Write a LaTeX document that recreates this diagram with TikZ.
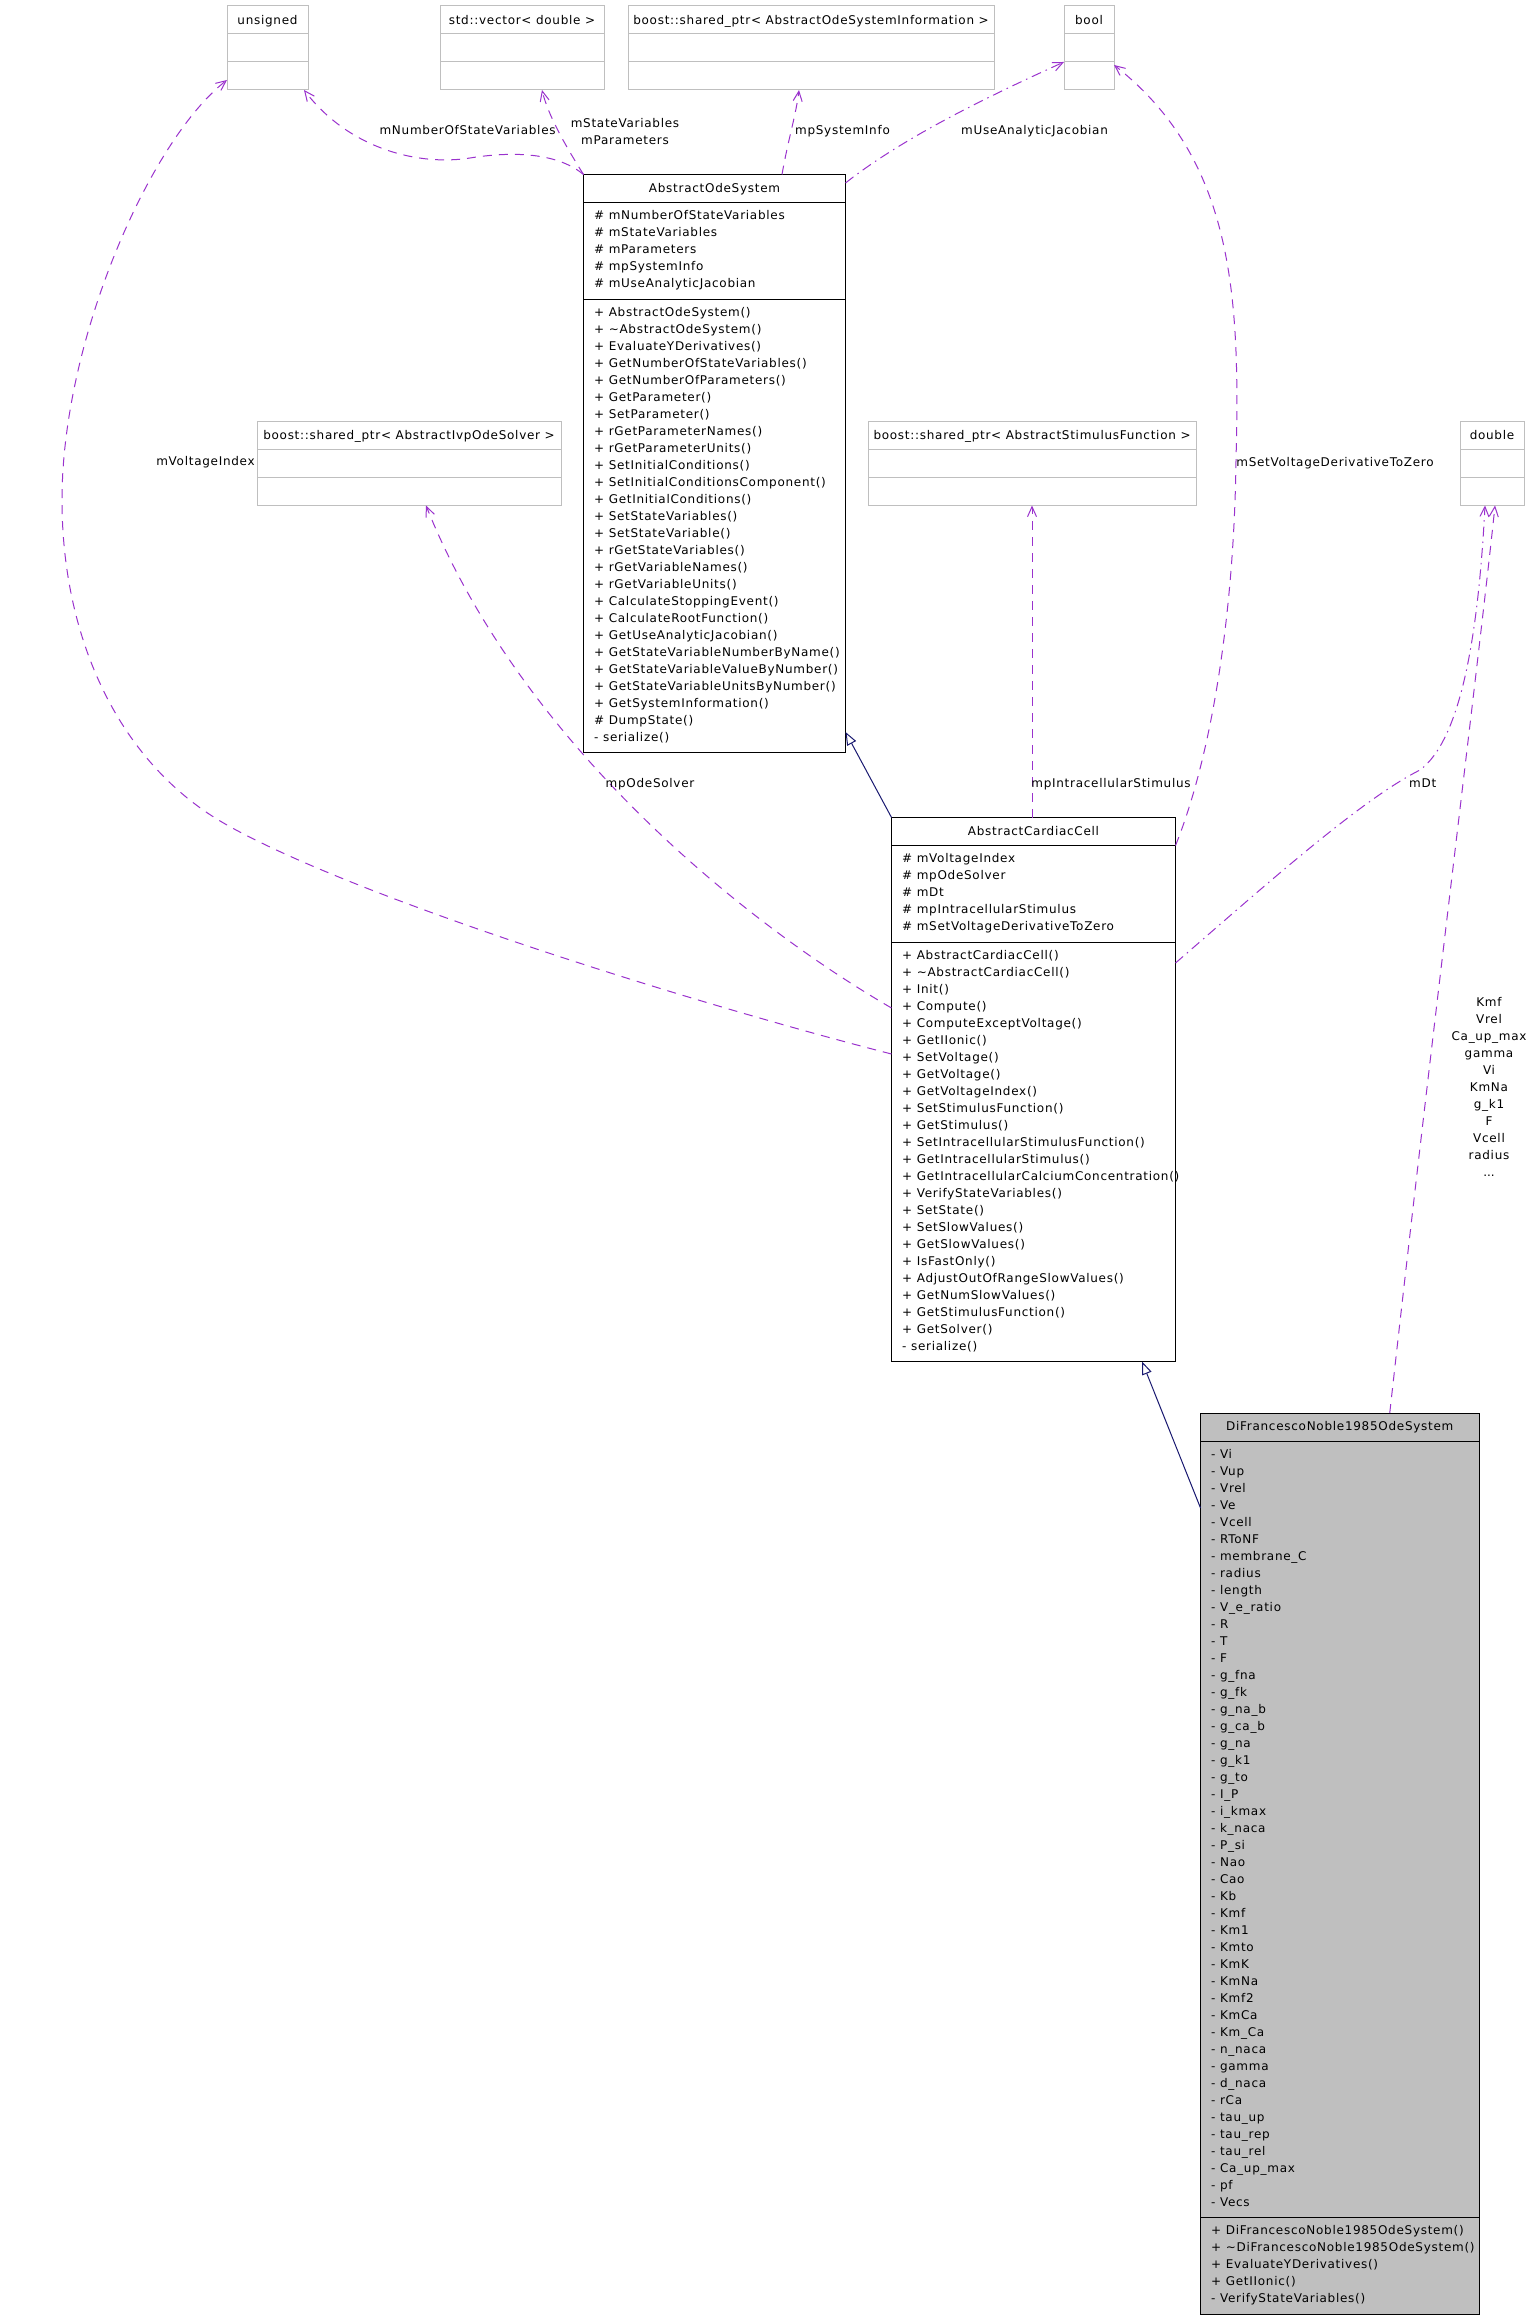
\documentclass[tikz,border=0pt]{standalone}
\usepackage{fontspec}
\setmainfont{DejaVu Sans}[LetterSpace=6]
\usetikzlibrary{arrows.meta,calc}
\definecolor{graybox}{HTML}{BFBFBF}
\definecolor{edgepurple}{HTML}{9A32CD}
\definecolor{inhblue}{HTML}{191970}
\tikzset{
  clsbox/.style={draw=black, line width=1pt, inner sep=0pt, outer sep=0pt, anchor=north west},
  extbox/.style={draw=graybox, line width=1pt, inner sep=0pt, outer sep=0pt, anchor=north west},
  memtxt/.style={anchor=base west, inner sep=0pt, font=\fontsize{12}{17}\selectfont},
  ttltxt/.style={anchor=base, inner sep=0pt, font=\fontsize{12}{17}\selectfont},
  lbltxt/.style={anchor=base, inner sep=0pt, font=\fontsize{12}{17}\selectfont},
  assoc/.style={draw=edgepurple, line width=1pt, dash pattern=on 9pt off 7pt, -{Straight Barb[length=10pt,width=9pt]}},
  assocdot/.style={assoc, dash pattern=on 10pt off 5pt on 1.5pt off 5pt},
  inherit/.style={draw=inhblue, line width=1pt, -{Triangle[fill=white,length=13pt,width=10pt]}},
  sepline/.style={line width=1pt},
}
\newcommand{\mkext}[5]{%
  \node[extbox, minimum width=#4pt, minimum height=84pt] (#1) at (#2,#3) {};
  \draw[graybox, sepline] ($(#1.north west)+(0,28)$) -- ($(#1.north east)+(0,28)$);
  \draw[graybox, sepline] ($(#1.north west)+(0,56)$) -- ($(#1.north east)+(0,56)$);
  \node[ttltxt] (#1T) at ($(#1.north)+(0,18.4)$) {#5};
}
\begin{document}
\begin{tikzpicture}[x=1pt,y=-1pt]
\useasboundingbox (0,0) rectangle (1531,2317);

% external type boxes
\mkext{unsigned}{227}{6}{81}{unsigned}
\mkext{stdvec}{440}{6}{164}{std::vector< double >}
\mkext{sysinfo}{628}{6}{366}{boost::shared\_ptr< AbstractOdeSystemInformation >}
\mkext{bool}{1064}{6}{50}{bool}
\mkext{ivp}{257}{421.5}{304}{boost::shared\_ptr< AbstractIvpOdeSolver >}
\mkext{stim}{868}{421.5}{328}{boost::shared\_ptr< AbstractStimulusFunction >}
\mkext{double}{1460}{421.5}{64}{double}

% AbstractOdeSystem
\node[clsbox, minimum width=262pt, minimum height=578pt] (aos) at (583.5,174.5) {};
\draw[sepline] (583.5,202.5) -- (845.5,202.5);
\draw[sepline] (583.5,299) -- (845.5,299);
\node[ttltxt] (aosT) at (714.5,192.4) {AbstractOdeSystem};
\foreach \t [count=\i from 0] in {\# mNumberOfStateVariables, \# mStateVariables, \# mParameters, \# mpSystemInfo, \# mUseAnalyticJacobian}
  \node[memtxt] (aosA\i) at ({594},{219.9+17*\i}) {\t};
\foreach \t [count=\i from 0] in {+ AbstractOdeSystem(), + \textasciitilde AbstractOdeSystem(), + EvaluateYDerivatives(), + GetNumberOfStateVariables(), + GetNumberOfParameters(), + GetParameter(), + SetParameter(), + rGetParameterNames(), + rGetParameterUnits(), + SetInitialConditions(), + SetInitialConditionsComponent(), + GetInitialConditions(), + SetStateVariables(), + SetStateVariable(), + rGetStateVariables(), + rGetVariableNames(), + rGetVariableUnits(), + CalculateStoppingEvent(), + CalculateRootFunction(), + GetUseAnalyticJacobian(), + GetStateVariableNumberByName(), + GetStateVariableValueByNumber(), + GetStateVariableUnitsByNumber(), + GetSystemInformation(), \# DumpState(), - serialize()}
  \node[memtxt] (aosM\i) at ({594},{316.4+17*\i}) {\t};

% AbstractCardiacCell
\node[clsbox, minimum width=284pt, minimum height=544pt] (acc) at (891.5,817.5) {};
\draw[sepline] (891.5,845.5) -- (1175.5,845.5);
\draw[sepline] (891.5,942) -- (1175.5,942);
\node[ttltxt] (accT) at (1033.5,835.4) {AbstractCardiacCell};
\foreach \t [count=\i from 0] in {\# mVoltageIndex, \# mpOdeSolver, \# mDt, \# mpIntracellularStimulus, \# mSetVoltageDerivativeToZero}
  \node[memtxt] (accA\i) at ({902},{862.9+17*\i}) {\t};
\foreach \t [count=\i from 0] in {+ AbstractCardiacCell(), + \textasciitilde AbstractCardiacCell(), + Init(), + Compute(), + ComputeExceptVoltage(), + GetIIonic(), + SetVoltage(), + GetVoltage(), + GetVoltageIndex(), + SetStimulusFunction(), + GetStimulus(), + SetIntracellularStimulusFunction(), + GetIntracellularStimulus(), + GetIntracellularCalciumConcentration(), + VerifyStateVariables(), + SetState(), + SetSlowValues(), + GetSlowValues(), + IsFastOnly(), + AdjustOutOfRangeSlowValues(), + GetNumSlowValues(), + GetStimulusFunction(), + GetSolver(), - serialize()}
  \node[memtxt] (accM\i) at ({902},{959.4+17*\i}) {\t};

% DiFrancescoNoble1985OdeSystem
\node[clsbox, fill=graybox, minimum width=278.5pt, minimum height=901pt] (dfn) at (1200.5,1413) {};
\draw[sepline] (1200.5,1441) -- (1479,1441);
\draw[sepline] (1200.5,2217.5) -- (1479,2217.5);
\node[ttltxt] (dfnT) at (1339.75,1430.4) {DiFrancescoNoble1985OdeSystem};
\foreach \t [count=\i from 0] in {- Vi, - Vup, - Vrel, - Ve, - Vcell, - RToNF, - membrane\_C, - radius, - length, - V\_e\_ratio, - R, - T, - F, - g\_fna, - g\_fk, - g\_na\_b, - g\_ca\_b, - g\_na, - g\_k1, - g\_to, - I\_P, - i\_kmax, - k\_naca, - P\_si, - Nao, - Cao, - Kb, - Kmf, - Km1, - Kmto, - KmK, - KmNa, - Kmf2, - KmCa, - Km\_Ca, - n\_naca, - gamma, - d\_naca, - rCa, - tau\_up, - tau\_rep, - tau\_rel, - Ca\_up\_max, - pf, - Vecs}
  \node[memtxt] (dfnA\i) at ({1211},{1458.4+17*\i}) {\t};
\foreach \t [count=\i from 0] in {+ DiFrancescoNoble1985OdeSystem(), + \textasciitilde DiFrancescoNoble1985OdeSystem(), + EvaluateYDerivatives(), + GetIIonic(), - VerifyStateVariables()}
  \node[memtxt] (dfnM\i) at ({1211},{2234.9+17*\i}) {\t};

% inheritance
\draw[inherit] (acc.north west) -- ($(aos.south east)+(0,-20.5)$);
\draw[inherit] ($(dfn.north west)+(0,95)$) -- ($(acc.south east)+(-33.5,0)$);

% associations
\draw[assoc] (aos.north west) .. controls (560,155) and (520,150) .. (470,158)
  .. controls (420,166) and (350,150) .. ($(unsigned.south east)+(-4,0)$);
\node[lbltxt] (lNOSV) at (467.6,135) {mNumberOfStateVariables};

\draw[assoc] (aos.north west) .. controls (565,145) and (548,115) .. ($(stdvec.south)+(20,0)$);
\node[lbltxt] (lSV) at (625,127.4) {mStateVariables};
\node[lbltxt] (lPar) at (625,144.4) {mParameters};

\draw[assoc] ($(aos.north)+(67.5,0)$) .. controls (788,140) and (796,115) .. ($(sysinfo.south)+(-12,0)$);
\node[lbltxt] (lSI) at (842.5,135) {mpSystemInfo};

\draw[assocdot] ($(aos.north east)+(0,8.5)$) .. controls (900,140) and (980,100) .. ($(bool.south west)+(0,-28)$);
\node[lbltxt] (lUAJ) at (1034.5,135) {mUseAnalyticJacobian};

\draw[assoc] ($(acc.north east)+(0,28)$) .. controls (1210,760) and (1234,620) .. (1236,460)
  .. controls (1240,300) and (1235,160) .. ($(bool.south east)+(0,-25)$);
\node[lbltxt] (lSVD) at (1335,466.1) {mSetVoltageDerivativeToZero};

\draw[assoc] ($(acc.north west)+(0,236.5)$) .. controls (700,1005) and (360,900) .. (227,825)
  .. controls (120,765) and (62,640) .. (62,500)
  .. controls (62,340) and (150,140) .. ($(unsigned.south west)+(0,-10)$);
\node[lbltxt] (lVI) at (205.5,465.4) {mVoltageIndex};

\draw[assoc] ($(acc.north west)+(0,190.5)$) .. controls (740,920) and (520,740) .. ($(ivp.south)+(17,0)$);
\node[lbltxt] (lOS) at (650,787.4) {mpOdeSolver};

\draw[assoc] (stim.south |- acc.north) -- (stim.south);
\node[lbltxt] (lIS) at (1111,787.1) {mpIntracellularStimulus};

\draw[assocdot] ($(acc.north east)+(0,145.5)$) .. controls (1260,890) and (1360,800) .. (1420,770)
  .. controls (1460,740) and (1478,640) .. ($(double.south)+(-7,0)$);
\node[lbltxt] (lDt) at (1422.7,787.1) {mDt};

\draw[assoc] ($(dfn.north)+(50,0)$) .. controls (1430,1050) and (1480,650) .. ($(double.south)+(3,0)$);
\foreach \t [count=\i from 0] in {Kmf, Vrel, Ca\_up\_max, gamma, Vi, KmNa, g\_k1, F, Vcell, radius}
  \node[lbltxt] (lK\i) at ({1489},{1006.1+17*\i}) {\t};
\node[lbltxt] (lKmore) at (1489,1176.1) {.\kern0pt.\kern0pt.};
\end{tikzpicture}
\end{document}
